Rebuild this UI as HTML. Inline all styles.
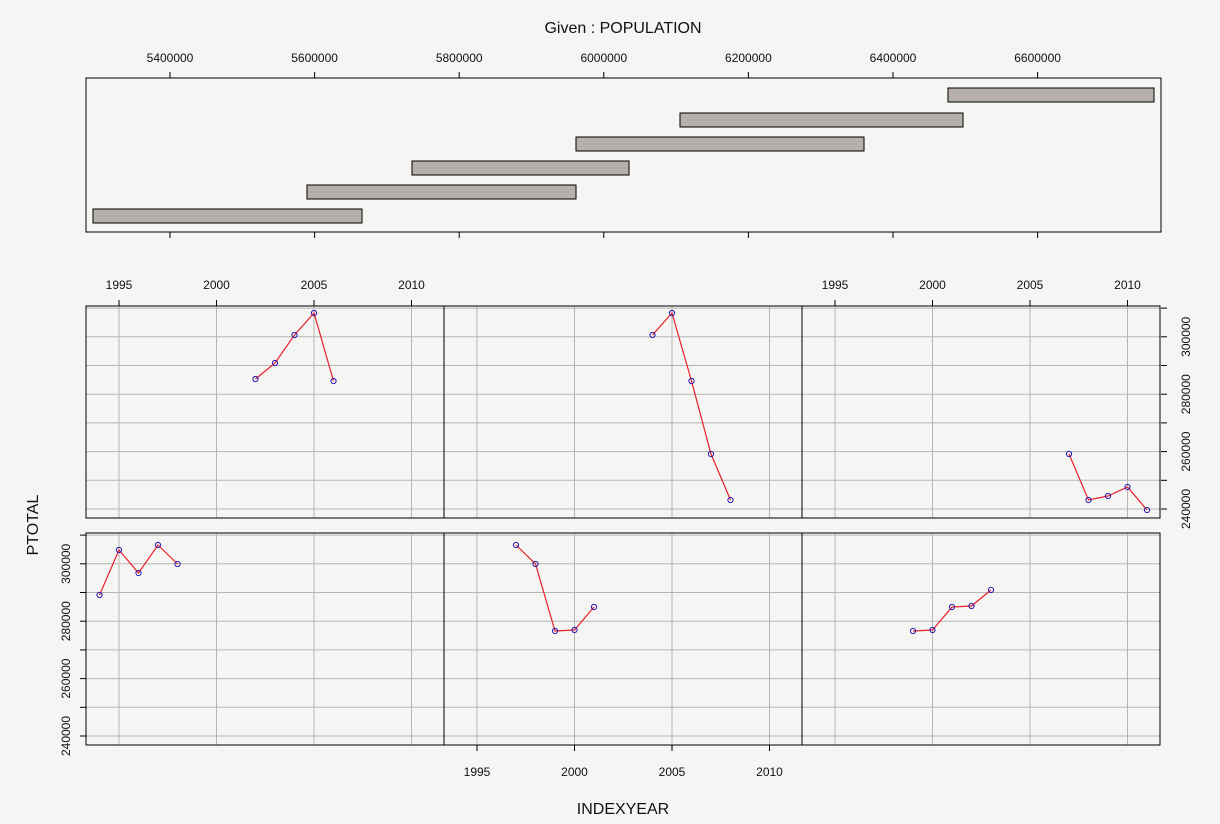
<!DOCTYPE html>
<html><head><meta charset="utf-8"><style>
html,body{margin:0;padding:0;background:#f5f5f4;}
svg{display:block;font-family:"Liberation Sans",Arial,sans-serif;}
</style></head><body>
<svg id="s" width="1220" height="824" viewBox="0 0 1220 824" xmlns="http://www.w3.org/2000/svg">
<rect width="1220" height="824" fill="#f5f5f4"/>
<text x="623" y="33" font-size="16" text-anchor="middle" fill="#111">Given : POPULATION</text>
<text x="623" y="814" font-size="16" text-anchor="middle" fill="#111">INDEXYEAR</text>
<text transform="translate(38,525) rotate(-90)" font-size="16" text-anchor="middle" fill="#111">PTOTAL</text>
<g id="g"></g>
</svg>
<script>
var g=document.getElementById('g'),h='';
function L(x1,y1,x2,y2,c,w){h+='<line x1="'+x1+'" y1="'+y1+'" x2="'+x2+'" y2="'+y2+'" stroke="'+(c||'#000')+'" stroke-width="'+(w||1)+'"/>';}
function T(x,y,t,extra){h+='<text x="'+x+'" y="'+y+'" font-size="12" text-anchor="middle" fill="#111" '+(extra||'')+'>'+t+'</text>';}
// top condition panel
h+='<rect x="86" y="78" width="1075" height="154" fill="#f5f5f4" stroke="#000"/>';
var pops=[5400000,5600000,5800000,6000000,6200000,6400000,6600000];
pops.forEach(function(p){var x=170+(p-5400000)/200000*144.6;L(x,72,x,78);L(x,232,x,238);T(x,62,p);});
var bars=[[93,362,209],[307,576,185],[412,629,161],[576,864,137],[680,963,113],[948,1154,88]];
bars.forEach(function(b){h+='<rect x="'+b[0]+'" y="'+b[2]+'" width="'+(b[1]-b[0])+'" height="14" fill="#b7afa9" stroke="#000"/>';});
// panels
var cols=[86,444,802],rows=[306,533],W=358,H=212;
function px(c,yr){return cols[c]+33+(yr-1995)*19.5;}
function py(r,v){return rows[r]+203-(v-240000)*0.00287;}
for(var r=0;r<2;r++)for(var c=0;c<3;c++){
 var x0=cols[c],y0=rows[r];
 h+='<rect x="'+x0+'" y="'+y0+'" width="'+W+'" height="'+H+'" fill="#f5f5f4"/>';
 for(var yr=1995;yr<=2010;yr+=5)L(px(c,yr),y0,px(c,yr),y0+H,'#b5b5b5');
 for(var k=0;k<8;k++){var yy=rows[r]+203-k*28.7;if(yy>y0&&yy<y0+H)L(x0,yy,x0+W,yy,'#b5b5b5');}
 h+='<rect x="'+x0+'" y="'+y0+'" width="'+W+'" height="'+H+'" fill="none" stroke="#000"/>';
}
// top x labels (cols 0,2 on top row)
[0,2].forEach(function(c){for(var yr=1995;yr<=2010;yr+=5){var x=px(c,yr);L(x,300,x,306);T(x,289,yr);}});
// bottom x labels col 1
for(var yr=1995;yr<=2010;yr+=5){var x=px(1,yr);L(x,745,x,751);T(x,776,yr);}
// right y axis top row
for(var k=0;k<8;k++){var yy=py(0,240000+k*10000);if(yy>=rows[0]&&yy<=rows[0]+H){L(1161,yy,1167,yy);}
 if(k%2==0){h+='<text transform="translate(1190,'+yy+') rotate(-90)" font-size="12" text-anchor="middle" fill="#111">'+(240000+k*10000)+'</text>';}}
// left y axis bottom row
for(var k=0;k<8;k++){var yy=py(1,240000+k*10000);if(yy>=rows[1]&&yy<=rows[1]+H){L(80,yy,86,yy);}
 if(k%2==0){h+='<text transform="translate(70,'+yy+') rotate(-90)" font-size="12" text-anchor="middle" fill="#111">'+(240000+k*10000)+'</text>';}}
// data as pixel y
var data=[
 [0,0,[[2002,379],[2003,363],[2004,335],[2005,313],[2006,381]]],
 [0,1,[[2004,335],[2005,313],[2006,381],[2007,454],[2008,500]]],
 [0,2,[[2007,454],[2008,500],[2009,496],[2010,487],[2011,510]]],
 [1,0,[[1994,595],[1995,550],[1996,573],[1997,545],[1998,564]]],
 [1,1,[[1997,545],[1998,564],[1999,631],[2000,630],[2001,607]]],
 [1,2,[[1999,631],[2000,630],[2001,607],[2002,606],[2003,590]]]];
data.forEach(function(d){var pts=d[2].map(function(p){return [px(d[1],p[0]),p[1]];});
 h+='<polyline fill="none" stroke="#e8202a" stroke-width="1.2" points="'+pts.map(function(p){return p.join(',');}).join(' ')+'"/>';
 pts.forEach(function(p){h+='<circle cx="'+p[0]+'" cy="'+p[1]+'" r="2.6" fill="none" stroke="#2a1ab0" stroke-width="1"/>';});
});
g.innerHTML=h;
</script>
</body></html>
